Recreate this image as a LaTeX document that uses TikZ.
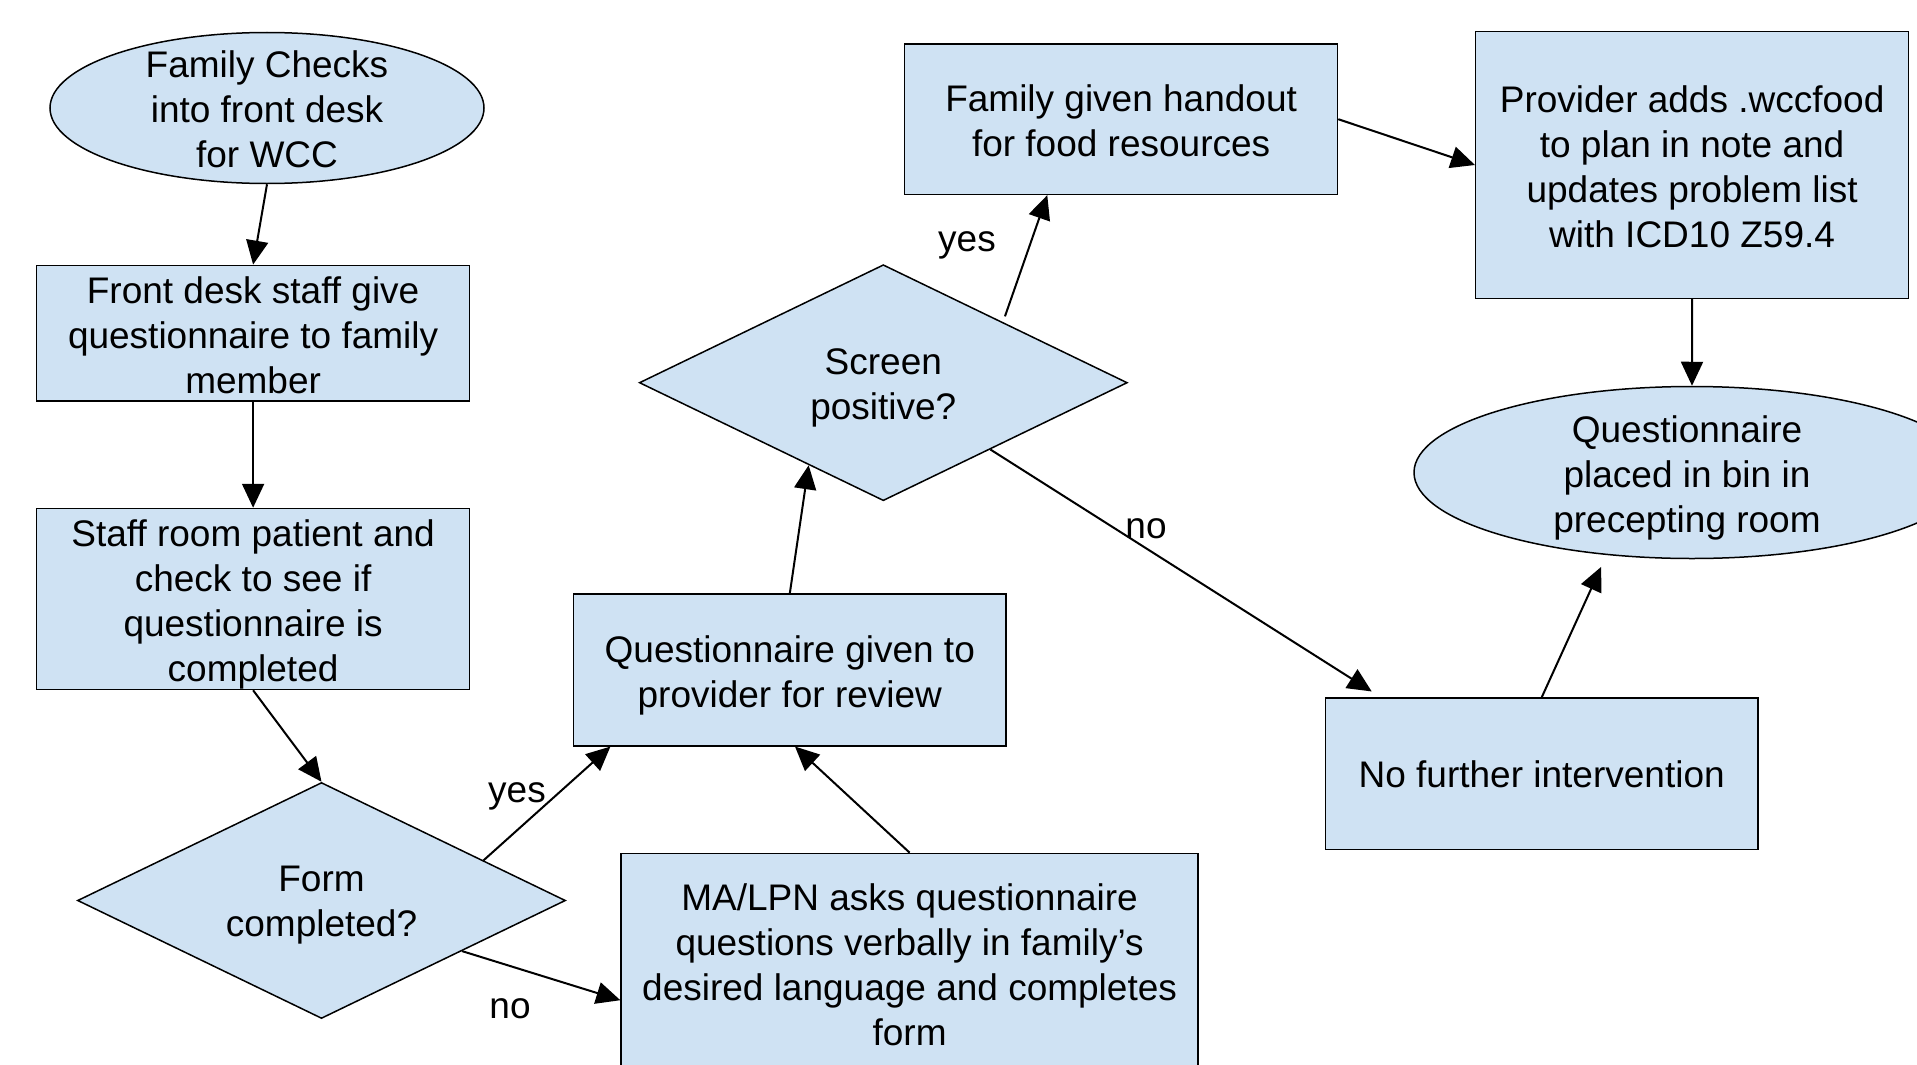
\documentclass[tikz,border=0pt]{standalone}
\usepackage{fontspec}
\setmainfont{Liberation Sans}
\usetikzlibrary{shapes.geometric,arrows.meta,calc}
\definecolor{boxblue}{HTML}{CFE2F3}
\tikzset{
  txtfont/.style={font=\fontsize{37}{45}\selectfont},
  box/.style={draw=black, line width=1.5pt, fill=boxblue, rectangle, minimum width=432.8pt, inner sep=0pt},
  oval/.style={draw=black, line width=1.5pt, fill=boxblue, ellipse, inner sep=0pt},
  dia/.style={draw=black, line width=1.5pt, fill=boxblue, diamond, inner sep=0pt, minimum width=488pt, minimum height=236pt},
  txt/.style={align=center, inner sep=0pt, txtfont, yshift=-5pt},
  lbl/.style={inner sep=0pt, txtfont},
  arr/.style={-{Triangle[length=24pt,width=22pt]}, line width=2pt}
}
\begin{document}
\begin{tikzpicture}[x=1pt,y=-1pt]
\fill[white] (0,0) rectangle (1917,1065);
\useasboundingbox (0,0) rectangle (1917,1065);

% shapes
\node[oval, minimum width=434pt, minimum height=151pt] (famE) at (267,108) {};
\node[txt, yshift=4pt] (famT) at (famE.center) {Family Checks\\into front desk\\for WCC};

\node[box, minimum height=135.7pt] (boxB) at (253.1,333.2) {};
\node[txt, yshift=3pt] (boxBT) at (boxB.center) {Front desk staff give\\questionnaire to family\\member};
\node[box, minimum height=181pt] (boxC) at (253.1,599) {};
\node[txt] (boxCT) at (boxC.center) {Staff room patient and\\check to see if\\questionnaire is\\completed};

\node[dia] (diaD) at (321.5,900.5) {};
\node[txt] (diaDT) at (diaD.center) {Form\\completed?};

\node[box, minimum height=151.6pt] (boxE) at (789.8,670) {};
\node[txt] (boxET) at (boxE.center) {Questionnaire given to\\provider for review};
\node[box, minimum width=577pt, minimum height=222.4pt] (boxF) at (909.6,964.6) {};
\node[txt, yshift=5pt] (boxFT) at (boxF.center) {MA/LPN asks questionnaire\\questions verbally in family’s\\desired language and completes\\form};

\node[dia] (diaG) at (883.3,382.7) {};
\node[txt] (diaGT) at (diaG.center) {Screen\\positive?};

\node[box, minimum height=150.4pt] (boxH) at (1121.1,119.2) {};
\node[txt, yshift=3pt] (boxHT) at (boxH.center) {Family given handout\\for food resources};
\node[box, minimum height=266.5pt] (boxI) at (1692.1,165) {};
\node[txt, yshift=3pt] (boxIT) at (boxI.center) {Provider adds .wccfood\\to plan in note and\\updates problem list\\with ICD10 Z59.4};

\node[oval, minimum width=556pt, minimum height=172pt] (ovalJ) at (1692,472.5) {};
\node[txt] (ovalJT) at (1687,472.5) {Questionnaire\\placed in bin in\\precepting room};

\node[box, minimum height=151.6pt] (boxK) at (1541.7,773.9) {};
\node[txt, yshift=5pt] (boxKT) at (boxK.center) {No further intervention};

% labels
\node[lbl] (yes1) at (517,796) {yes};
\node[lbl] (no1) at (510,1009) {no};
\node[lbl] (yes2) at (967,245) {yes};
\node[lbl] (no2) at (1146,529) {no};

% connectors
\draw[arr] (famE.south) -- (boxB.north);
\draw[arr] (boxB.south) -- (boxC.north);
\draw[arr] (boxC.south) -- (diaD.north);
\draw[arr] ($(diaD.north)!0.662!(diaD.east)$) -- ($(boxE.south west)!0.087!(boxE.south east)$);
\draw[arr] ($(diaD.east)!0.426!(diaD.south)$) -- ($(boxF.north west)!0.659!(boxF.south west)$);
\draw[arr] (boxF.north) -- ($(boxE.south west)!0.512!(boxE.south east)$);
\draw[arr] (boxE.north) -- ($(diaG.west)!0.695!(diaG.south)$);
\draw[arr, shorten <=6pt] ($(diaG.north)!0.489!(diaG.east)$) -- ($(boxH.south west)!0.33!(boxH.south east)$);
\draw[arr, shorten >=11pt] ($(diaG.east)!0.5625!(diaG.south)$) -- ($(boxK.north west)!0.13!(boxK.north east)$);
\draw[arr] (boxH.east) -- (boxI.west);
\draw[arr] (boxI.south) -- (ovalJ.north);
\draw[arr, shorten >=13pt] (boxK.north) -- (ovalJ.224);
\end{tikzpicture}
\end{document}
